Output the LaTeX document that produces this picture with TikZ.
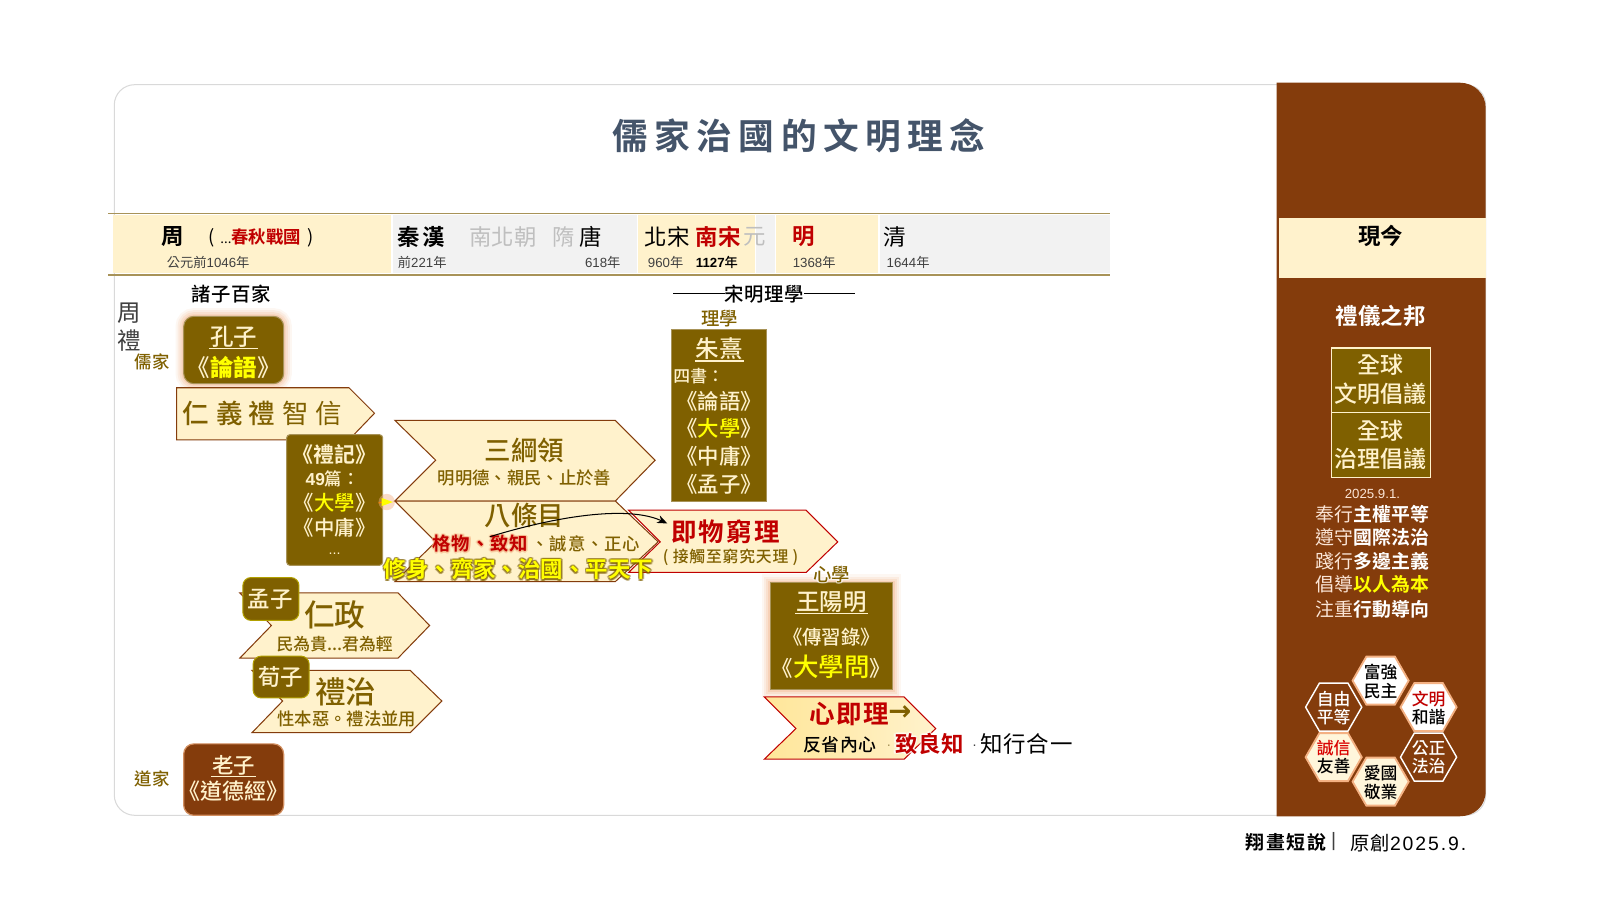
\documentclass[tikz,border=0pt]{standalone}
\usepackage{fontspec}
\setmainfont{Noto Sans CJK TC}[BoldFont={Noto Sans CJK TC Medium}]
\newfontfamily\hv{Noto Sans CJK TC Bold}
\newfontfamily\ar{Liberation Sans}
\newfontfamily\dv{DejaVu Sans}
\usetikzlibrary{calc,arrows.meta}
\definecolor{olive}{HTML}{7F6000}
\definecolor{brownp}{HTML}{843C0C}
\definecolor{creamb}{HTML}{FFF2CC}
\definecolor{grayb}{HTML}{F2F2F2}
\definecolor{darkred}{HTML}{C00000}
\definecolor{title}{HTML}{44546A}
\definecolor{tanl}{HTML}{A89358}
\definecolor{glowo}{HTML}{F4B183}
\definecolor{ltgray}{HTML}{BFBFBF}
\definecolor{txtg}{HTML}{404040}
\definecolor{yel}{HTML}{FFFF00}
\definecolor{creamt}{HTML}{FBE5D6}
\definecolor{goldl}{HTML}{FFE699}
\newcommand\fsl[2]{\fontsize{\fpeval{#1/2}}{\fpeval{#2/2}}\selectfont}
\newcommand\fs[1]{\fsl{#1}{\fpeval{#1*1.1}}}
\newcommand\ls[1]{\addfontfeature{LetterSpace=#1}}
\newcommand\chev[9]{%
  \draw[#2] (#3,#4) -- (#6,#4) -- (#7,#8) -- (#6,#9) -- (#3,#9) -- (#5,#8) -- cycle;
  \coordinate (#1) at (#6,#8);}
\newcommand\glowbox[5]{% x1 y1 x2 y2 radius
  \foreach \w/\o in {16/.10,12/.15,8/.2,4/.3}{
    \draw[glowo,line width=\w*0.5pt,opacity=\o,rounded corners=#5] (#1,#2) rectangle (#3,#4);}}
\newcommand\gtxt[5]{% name, pos, glowcolor, opts, text
  \foreach \dx/\dy in {-1.5/0,1.5/0,0/-1.5,0/1.5,-1.1/-1.1,1.1/-1.1,-1.1/1.1,1.1/1.1}{
    \node[lbl,#4,opacity=.45,text=#3] at ([shift={(\dx,\dy)}]#2) {#5};}
  \node[lbl,#4] (#1) at (#2) {#5};}
\newcommand\hexa[4]{% cx cy style name
  \draw[#3] (#1-27.5,#2) -- (#1-14,#2-23.5) -- (#1+14,#2-23.5) -- (#1+27.5,#2) -- (#1+14,#2+23.5) -- (#1-14,#2+23.5) -- cycle;}
\tikzset{
  lbl/.style={inner sep=0pt,outer sep=0pt,align=center,anchor=center},
  boxo/.style={fill=olive,draw=tanl,line width=.5pt},
  chevb/.style={fill=creamb,draw=brownp,line width=.5pt,line join=miter},
  chevr/.style={fill=creamb,draw=darkred,line width=.5pt,line join=miter},
  hexw/.style={fill=white,draw=glowo,line width=.9pt},
  hexc/.style={fill=creamb!70!white,draw=glowo,line width=.9pt},
  hexb/.style={fill=brownp,draw=white,line width=.7pt},
}
\begin{document}
\begin{tikzpicture}[x=0.5pt,y=-0.5pt]
\useasboundingbox (0,0) rectangle (1568,881);
\fill[white] (0,0) rectangle (1568,881);
% card
\draw[draw=black!15,line width=.5pt,rounded corners=10pt,fill=white] (112,83) rectangle (1456,799);
% panel
\fill[brownp] (1251,81) -- (1430,81) .. controls (1445,81) and (1456,92) .. (1456,106) -- (1456,775) .. controls (1456,790) and (1445,800) .. (1430,800) -- (1251,800) -- cycle;
\fill[creamb] (1253,214) rectangle (1456,272);
\node[lbl,font=\fs{22}\hv] (now) at (1353,231) {現今};
\node[lbl,text=white,font=\fs{22}\hv] (rite) at (1353,310) {禮儀之邦};
\draw[boxo,draw=creamb,line width=.6pt] (1305,341) rectangle (1402,404);
\draw[boxo,draw=creamb,line width=.6pt] (1305,404) rectangle (1402,468);
\node[lbl,text=creamb,font=\fsl{22.5}{28}\bfseries] (gci) at (1353,372) {全球\\文明倡議};
\node[lbl,text=creamb,font=\fsl{22.5}{28}\bfseries] (ggi) at (1353,436) {全球\\治理倡議};
\node[lbl,text=creamt,font=\fs{13}\ar] (dt) at (1345,484) {2025.9.1.};
\foreach \a/\b/\c/\yy/\nm in {奉行/主權平等/white/504/p1,遵守/國際法治/white/527/p2,踐行/多邊主義/white/550/p3,倡導/以人為本/yel/573/p4,注重/行動導向/white/597/p5}{
  \node[lbl,text=creamt,font=\fs{18.5}] (\nm) at (1345,\yy) {\a{\hv\textcolor{\c}{\b}}};
}
% hexagons
\hexa{1353}{667}{hexw}{}
\hexa{1400}{693}{hexw}{}
\hexa{1307}{693}{hexb}{}
\hexa{1307}{742}{hexc}{}
\hexa{1353}{766}{hexc}{}
\hexa{1400}{742}{hexb}{}
\node[lbl,font=\fsl{16.5}{18}\bfseries] (h1) at (1353,668) {富強\\民主};
\node[lbl,font=\fsl{16.5}{18}\bfseries] (h2) at (1400,694) {\textcolor{darkred}{文明}\\和諧};
\node[lbl,text=white,font=\fsl{16.5}{18}\bfseries] (h3) at (1307,694) {自由\\平等};
\node[lbl,font=\fsl{16.5}{18}\bfseries] (h4) at (1307,742) {\textcolor{red!85!black}{誠信}\\友善};
\node[lbl,font=\fsl{16.5}{18}\bfseries] (h5) at (1353,767) {愛國\\敬業};
\node[lbl,text=white,font=\fsl{16.5}{18}\bfseries] (h6) at (1400,742) {公正\\法治};
% footer
\node[lbl,anchor=west,font=\fs{18.5}\hv\ls{8}] (foot) at (1221,826) {翔畫短說};
\node[lbl,font=\fs{19}\ar,text=txtg] (fbar) at (1307,825) {|};
\node[lbl,anchor=east,font=\fs{19}] (foot2) at (1437,826) {{\ls{4}原創}{\ar\ls{10}2025.9.}};
% title
\node[lbl,text=title,font=\fs{35}\hv\ls{18}] (ttl) at (783,133) {儒家治國的文明理念};
% band
\fill[creamb] (111,211) rectangle (383,268);
\fill[grayb] (385,211) rectangle (624,268);
\fill[creamb] (625,211) rectangle (740,268);
\fill[grayb] (741,211) rectangle (759,268);
\fill[creamb] (760,211) rectangle (860,268);
\fill[grayb] (862,211) rectangle (1088,268);
\draw[tanl,line width=.7pt] (106,209.5) -- (1088,209.5);
\draw[tanl,line width=1pt] (106,269.5) -- (1088,269.5);
\node[lbl,font=\fs{22}\hv] (zhou) at (169,232) {周};
\node[lbl,anchor=west,font=\fs{18}] (cq) at (204,233) {(\hspace{3pt}{\fs{13}...}\textcolor{darkred}{\fs{17}\hv 春秋戰國}\hspace{3pt})};
\node[lbl,text=txtg,font=\fs{13}] (d0) at (204,257) {公元前{\ar 1046}年};
\node[lbl,anchor=west,font=\fs{22}\hv\ls{8}] (qh) at (390,232) {秦漢};
\node[lbl,anchor=west,text=ltgray,font=\fs{22}] (nbc) at (460,232) {南北朝};
\node[lbl,anchor=west,text=ltgray,font=\fs{22}] (sui) at (541,232) {隋};
\node[lbl,anchor=west,font=\fs{22}] (tang) at (568,232) {唐};
\node[lbl,anchor=west,text=txtg,font=\fs{13}] (d1) at (390,257) {前{\ar 221}年};
\node[lbl,anchor=east,text=txtg,font=\fs{13}] (d2) at (608,257) {{\ar 618}年};
\node[lbl,anchor=west,font=\fs{22}] (bs) at (632,232) {北宋};
\node[lbl,anchor=west,text=darkred,font=\fs{22}\hv] (ns) at (682,232) {南宋};
\node[lbl,anchor=west,text=ltgray,font=\fs{22}] (yuan) at (729,232) {元};
\node[lbl,anchor=west,text=txtg,font=\fs{13}] (d3) at (635,257) {{\ar 960}年};
\node[lbl,anchor=west,text=black,font=\fs{13}\bfseries] (d4) at (682,257) {{\ar\bfseries 1127}年};
\node[lbl,anchor=west,text=darkred,font=\fs{22}\hv] (ming) at (777,232) {明};
\node[lbl,anchor=west,font=\fs{22}] (qing) at (866,232) {清};
\node[lbl,anchor=west,text=txtg,font=\fs{13}] (d5) at (777,257) {{\ar 1368}年};
\node[lbl,anchor=west,text=txtg,font=\fs{13}] (d6) at (869,257) {{\ar 1644}年};
% heads
\node[lbl,font=\fs{19}\bfseries\ls{3}] (zz) at (227,288) {諸子百家};
\node[lbl,font=\fs{19}\bfseries\ls{3}] (sm) at (749,288) {宋明理學};
\coordinate (sml) at (660,288); \coordinate (smr) at (838,288);
\draw[line width=.5pt] (sml) -- (sm.west);
\draw[line width=.5pt] (sm.east) -- (smr);
\node[lbl,text=txtg,font=\fsl{23}{27}] (zl) at (127,320.5) {周\\禮};
\node[lbl,text=olive,font=\fs{17}\bfseries] (rj) at (149,355) {儒家};
\node[lbl,text=olive,font=\fs{17}\bfseries] (dj) at (149,763) {道家};
% Kongzi
\glowbox{180}{310}{278}{376}{5pt}
\draw[boxo,rounded corners=5pt] (180,310) rectangle (278,376);
\node[lbl,text=creamb,font=\fs{23}\bfseries] (kz) at (229,330) {孔子};
\draw[creamb,line width=.6pt] ($(kz.south west)+(-1,1)$) -- ($(kz.south east)+(1,1)$);
\node[lbl,text=creamb,font=\fs{23}\bfseries] (ly) at (229,360) {《\textcolor{yel}{\hv 論語}》};
% ren yi chev
\chev{ry}{chevb}{173}{380}{173}{342}{367}{405}{431}
\node[lbl,text=olive,font=\fs{26}\bfseries] (r1) at (192,405) {仁};
\node[lbl,text=olive,font=\fs{26}\bfseries] (r2) at (225,405) {義};
\node[lbl,text=olive,font=\fs{26}\bfseries] (r3) at (257,405) {禮};
\node[lbl,text=olive,font=\fs{26}] (r4) at (290,405) {智};
\node[lbl,text=olive,font=\fs{26}] (r5) at (322,405) {信};
% san gang
\chev{sg}{chevb}{387}{412}{427}{603}{642}{451}{491}
\node[lbl,text=olive,font=\fs{26}\bfseries] (sgt) at (514,441) {三綱領};
\node[lbl,text=olive,font=\fs{17}\bfseries] (sgs) at (514,468) {明明德、親民、止於善};
% ji wu
\chev{jw}{chevr}{616}{500}{647}{790}{821}{531}{561}
% ba tiao
\chev{bt}{chevb}{387}{491}{427}{603}{645}{531}{570}
\node[lbl,text=olive,font=\fs{26}\bfseries] (btt) at (514,505) {八條目};
\gtxt{gw}{424,533}{glowo}{anchor=west,text=darkred,font=\fs{18}\hv\ls{5}}{格物、致知}
\node[lbl,anchor=west,text=olive,font=\fs{17}\bfseries\ls{5}] (cy) at (521,533) {、誠意、正心};
\node[lbl,text=darkred,font=\fs{25}\hv\ls{8}] (jwt) at (711,521) {即物窮理};
\node[lbl,text=olive,font=\fs{15.5}\bfseries\ls{5}] (jws) at (716,546) {( 接觸至窮究天理 )};
% arrow to ji wu
\coordinate (cs) at (480,526); \coordinate (ce) at (654,513);
\draw[black,line width=.5pt,-{Stealth[length=5pt,width=4pt]}] (cs) .. controls (545,506) and (615,495) .. (ce);
\gtxt{xs}{508,558}{olive}{text=yel,font=\fs{22}\hv}{修身、齊家、治國、平天下}
% liji box
\draw[boxo,rounded corners=1.5pt] (281,426) rectangle (375,554);
\node[lbl,text=creamb,font=\fs{20.5}\hv] (lj) at (328,445) {《禮記》};
\node[lbl,text=creamb,font=\fs{17}\bfseries] (pn) at (326,469) {{\ar\bfseries 49}篇：};
\node[lbl,text=creamb,font=\fs{20}\bfseries] (dx) at (328,493) {《\textcolor{yel}{大學}》};
\node[lbl,text=creamb,font=\fs{20}\bfseries] (zy) at (328,517) {《中庸》};
\node[lbl,text=creamb,font=\fs{14}\ar] (dots) at (328,543) {...};
% yellow small arrow
\fill[glowo,opacity=.45] (379,492) circle (8);
\draw[orange,line width=.5pt] (dx.east) ++(3,0) -- (375,492);
\fill[yel] (374,488) -- (385,492) -- (374,496) -- cycle;
% zhu xi
\node[lbl,text=olive,font=\fs{18}\bfseries] (lx) at (705,312) {理學};
\draw[boxo] (658,323) rectangle (751,491);
\node[lbl,text=creamb,font=\fs{23}\bfseries] (zx) at (705,342) {朱熹};
\draw[creamb,line width=.6pt] ($(zx.south west)+(-1,1)$) -- ($(zx.south east)+(1,1)$);
\node[lbl,anchor=west,text=creamb,font=\fs{16.5}\bfseries] (ss) at (660,369) {四書：};
\node[lbl,text=creamb,font=\fs{21}\bfseries] (z1) at (705,393) {《論語》};
\node[lbl,text=creamb,font=\fs{21}\bfseries] (z2) at (705,420) {《\textcolor{yel}{大學}》};
\node[lbl,text=creamb,font=\fs{21}\bfseries] (z3) at (705,447) {《中庸》};
\node[lbl,text=creamb,font=\fs{21}\bfseries] (z4) at (705,475) {《孟子》};
% meng zi
\chev{rz}{chevb}{235}{581}{266}{390}{421}{613}{645}
\node[lbl,text=olive,font=\fs{30}\bfseries] (rzt) at (328,603) {仁政};
\node[lbl,text=olive,font=\fs{16.5}\bfseries] (rzs) at (328,631) {民為貴...君為輕};
\draw[boxo,draw=olive!60!yellow,rounded corners=4pt] (238,566) rectangle (293,608);
\node[lbl,text=creamb,font=\fs{22}\bfseries] (mz) at (265,587) {孟子};
% xun zi
\chev{lz}{chevb}{247}{657}{277}{402}{433}{687}{718}
\node[lbl,text=olive,font=\fs{30}\bfseries] (lzt) at (339,678) {禮治};
\node[lbl,text=olive,font=\fs{17}\bfseries] (lzs) at (340,705) {性本惡。禮法並用};
\draw[boxo,draw=olive!60!yellow,rounded corners=4pt] (248,643) rectangle (303,684);
\node[lbl,text=creamb,font=\fs{22}\bfseries] (xz) at (275,663) {荀子};
% lao zi
\draw[fill=brownp,draw=glowo!70!brownp,line width=.6pt,rounded corners=5pt] (180,729) rectangle (278,799);
\node[lbl,text=creamb,font=\fs{21}\bfseries] (lao) at (229,750) {老子};
\draw[creamb,line width=.6pt] ($(lao.south west)+(-1,1)$) -- ($(lao.south east)+(1,1)$);
\node[lbl,text=creamb,font=\fs{21.5}\bfseries] (ddj) at (229,775) {《道德經》};
% wang
\glowbox{755}{571}{875}{676}{0pt}
\draw[boxo] (755,571) rectangle (875,676);
\gtxt{xx}{815,563}{white}{text=olive,font=\fs{18}\bfseries}{心學}
\node[lbl,text=creamb,font=\fs{23}\bfseries] (wy) at (815,590) {王陽明};
\draw[creamb,line width=.6pt] ($(wy.south west)+(-1,1)$) -- ($(wy.south east)+(1,1)$);
\node[lbl,text=creamb,font=\fs{19}\bfseries] (cx) at (815,624) {《傳習錄》};
\node[lbl,text=creamb,font=\fs{21}\bfseries] (dxw) at (815,653) {《{\fs{25}\textcolor{yel}{大學問}}》};
% xin ji li
\chev{xj}{left color=goldl,right color=creamb,draw=darkred,line width=.5pt,line join=miter}{749}{683}{780}{886}{917}{714}{744}
\node[lbl,text=darkred,font=\fs{25}\hv\ls{5}] (xjt) at (832,700) {心即理};
\node[lbl,text=olive,font=\fs{27}\dv\bfseries] (xja) at (882,699) {→};
\node[lbl,font=\fs{17.5}\bfseries\ls{3}] (fx) at (823,730) {反省內心};
\node[lbl,text=tanl,font=\fs{14}\ar] (d7) at (871,731) {.};
\gtxt{lz2}{911,729}{white}{text=darkred,font=\fs{22}\hv\ls{4}}{致良知}
\node[lbl,text=txtg,font=\fs{14}\ar] (d8) at (955,731) {.};
\node[lbl,font=\fs{22}\ls{4}] (zx2) at (1006,729) {知行合一};
\end{tikzpicture}
\end{document}
